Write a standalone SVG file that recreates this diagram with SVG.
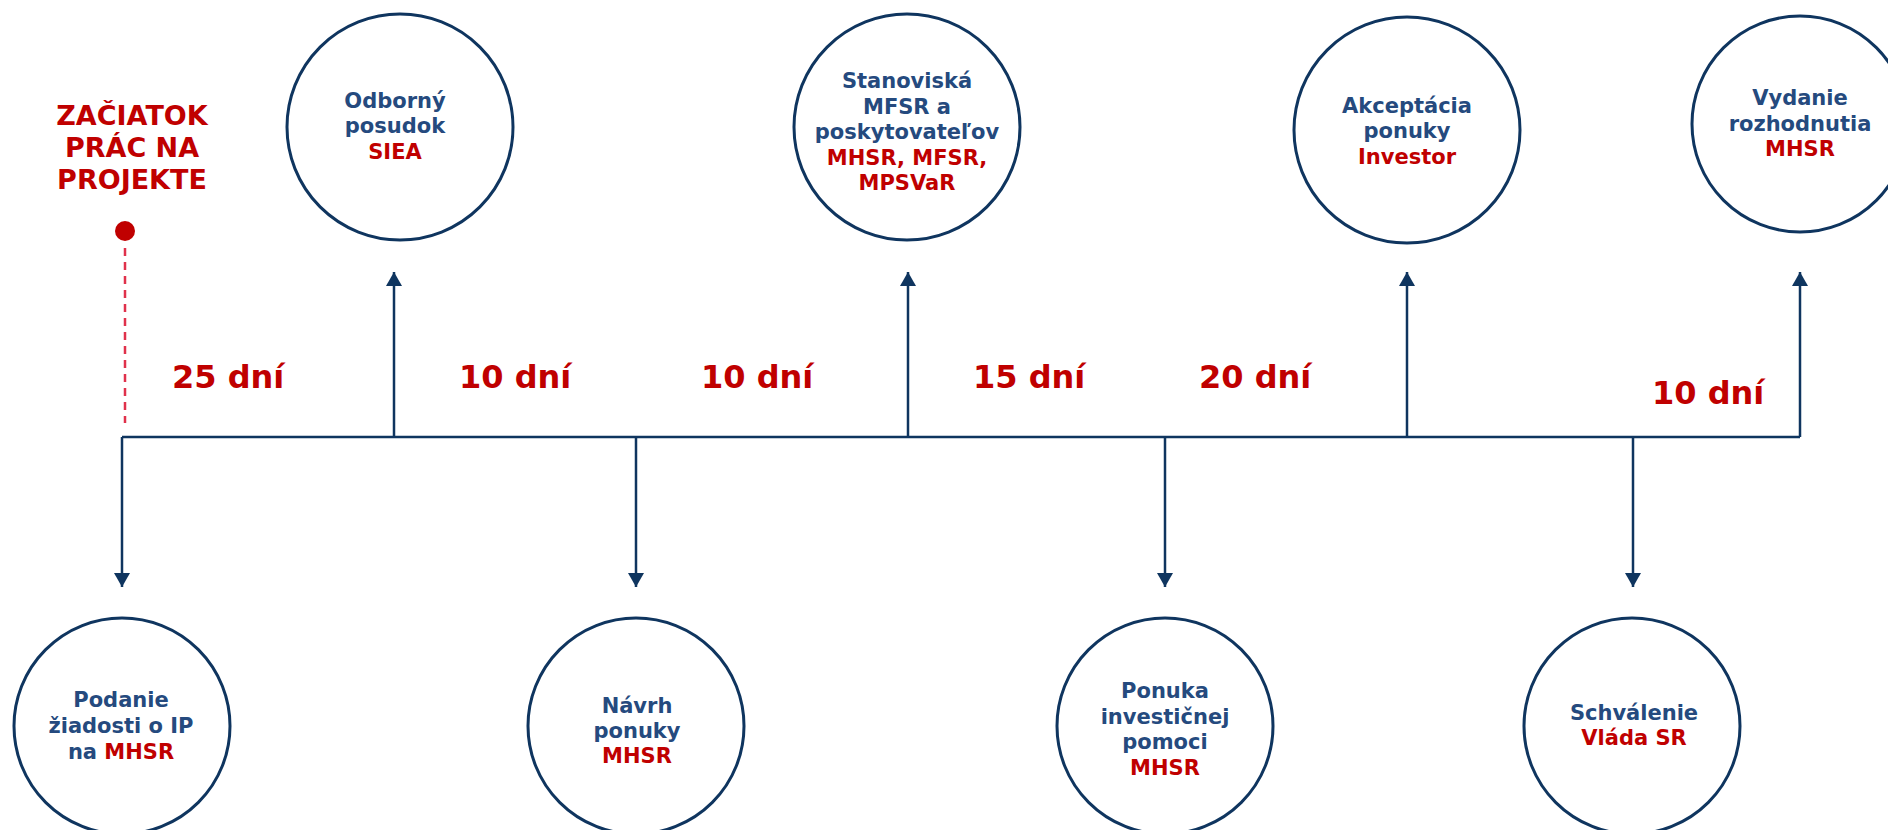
<svg xmlns="http://www.w3.org/2000/svg" width="1888" height="830" viewBox="0 0 1888 830">
<defs>
<style>
.node{fill:#ffffff;stroke:#0f355f;stroke-width:3}
.t{font-family:"DejaVu Sans",Verdana,sans-serif;font-weight:bold;font-size:21px;text-anchor:middle;fill:#254a7e}
.r{fill:#c00000}
.days{font-family:"DejaVu Sans",Verdana,sans-serif;font-weight:bold;font-size:32px;fill:#c00000}
.start{font-family:"DejaVu Sans",Verdana,sans-serif;font-weight:bold;font-size:27px;text-anchor:middle;fill:#c00000}
.ln{fill:none;stroke:#0f355f;stroke-width:2.5}
.arr{fill:none;stroke:#0f355f;stroke-width:2.5;marker-end:url(#ah)}
</style>
<marker id="ah" viewBox="0 0 14 16" markerWidth="14" markerHeight="16" refX="14" refY="8" orient="auto" markerUnits="userSpaceOnUse">
<path d="M0,0 L14,8 L0,16 z" fill="#0f355f"/>
</marker>
</defs>
<rect width="1888" height="830" fill="#ffffff"/>

<g id="connectors">
<line class="ln" x1="122" y1="437" x2="1800" y2="437"/>
<line class="arr" x1="122" y1="437" x2="122" y2="587"/>
<line class="arr" x1="636" y1="437" x2="636" y2="587"/>
<line class="arr" x1="1165" y1="437" x2="1165" y2="587"/>
<line class="arr" x1="1633" y1="437" x2="1633" y2="587"/>
<line class="arr" x1="394" y1="437" x2="394" y2="272"/>
<line class="arr" x1="908" y1="437" x2="908" y2="272"/>
<line class="arr" x1="1407" y1="437" x2="1407" y2="272"/>
<line class="arr" x1="1800" y1="437" x2="1800" y2="272"/>
<line x1="125" y1="248" x2="125" y2="423" stroke="#e0314b" stroke-width="2.5" stroke-dasharray="8,6"/>
</g>

<g id="start">
<text class="start" x="132" y="125">ZAČIATOK</text>
<text class="start" x="132" y="157">PRÁC NA</text>
<text class="start" x="132" y="189">PROJEKTE</text>
<circle cx="125" cy="231" r="10" fill="#c00000"/>
</g>

<g id="durations">
<text class="days" x="172" y="388">25 dní</text>
<text class="days" x="459" y="388">10 dní</text>
<text class="days" x="701" y="388">10 dní</text>
<text class="days" x="973" y="388">15 dní</text>
<text class="days" x="1199" y="388">20 dní</text>
<text class="days" x="1652" y="404">10 dní</text>
</g>

<g id="odborny">
<circle class="node" cx="400" cy="127" r="113"/>
<text class="t" x="395" y="108">Odborný</text>
<text class="t" x="395" y="133">posudok</text>
<text class="t r" x="395" y="159">SIEA</text>
</g>

<g id="stanoviska">
<circle class="node" cx="907" cy="127" r="113"/>
<text class="t" x="907" y="88">Stanoviská</text>
<text class="t" x="907" y="114">MFSR a</text>
<text class="t" x="907" y="139">poskytovateľov</text>
<text class="t r" x="907" y="165">MHSR, MFSR,</text>
<text class="t r" x="907" y="190">MPSVaR</text>
</g>

<g id="akceptacia">
<circle class="node" cx="1407" cy="130" r="113"/>
<text class="t" x="1407" y="113">Akceptácia</text>
<text class="t" x="1407" y="138">ponuky</text>
<text class="t r" x="1407" y="164">Investor</text>
</g>

<g id="vydanie">
<circle class="node" cx="1800" cy="124" r="108"/>
<text class="t" x="1800" y="105">Vydanie</text>
<text class="t" x="1800" y="131">rozhodnutia</text>
<text class="t r" x="1800" y="156">MHSR</text>
</g>

<g id="podanie">
<circle class="node" cx="122" cy="726" r="108"/>
<text class="t" x="121" y="707">Podanie</text>
<text class="t" x="121" y="733">žiadosti o IP</text>
<text class="t" x="121" y="759">na <tspan class="r">MHSR</tspan></text>
</g>

<g id="navrh">
<circle class="node" cx="636" cy="726" r="108"/>
<text class="t" x="637" y="713">Návrh</text>
<text class="t" x="637" y="738">ponuky</text>
<text class="t r" x="637" y="763">MHSR</text>
</g>

<g id="ponuka">
<circle class="node" cx="1165" cy="726" r="108"/>
<text class="t" x="1165" y="698">Ponuka</text>
<text class="t" x="1165" y="724">investičnej</text>
<text class="t" x="1165" y="749">pomoci</text>
<text class="t r" x="1165" y="775">MHSR</text>
</g>

<g id="schvalenie">
<circle class="node" cx="1632" cy="726" r="108"/>
<text class="t" x="1634" y="720">Schválenie</text>
<text class="t r" x="1634" y="745">Vláda SR</text>
</g>
</svg>
